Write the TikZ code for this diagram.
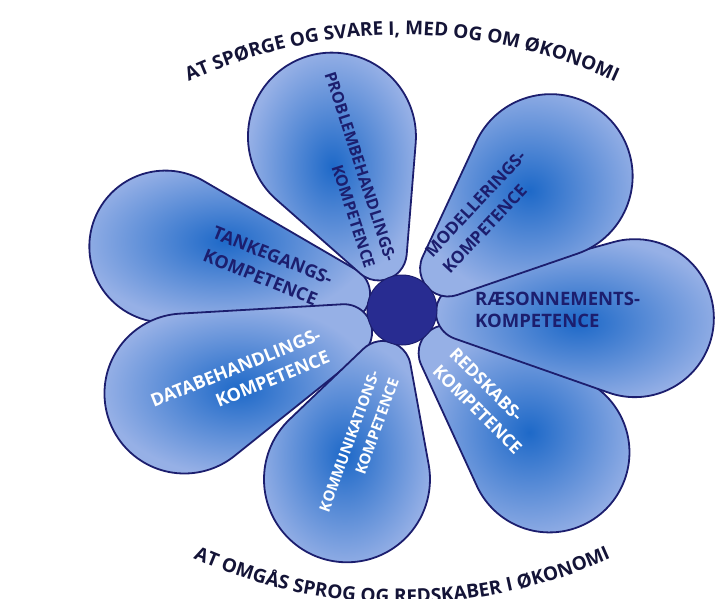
\documentclass[tikz,border=0pt]{standalone}
\usepackage{fontspec}
\setmainfont{Open Sans}
\usetikzlibrary{decorations.text}

\definecolor{navy}{RGB}{28,30,110}
\definecolor{ink}{RGB}{20,20,55}
\definecolor{petalin}{RGB}{30,105,200}
\definecolor{petalout}{RGB}{150,176,230}
\definecolor{hubfill}{RGB}{40,44,145}
\newcommand\arcfont{\bfseries\fontsize{19}{19}\selectfont}

\begin{document}
\begin{tikzpicture}[x=1pt, y=1pt,
petal/.style={draw=navy, line width=1.8pt, shading=radial, inner color=petalin, outer color=petalout},
lbl/.style 2 args={font=\bfseries\fontsize{#1}{#2}\selectfont, inner sep=0},
dark/.style 2 args={lbl={#1}{#2}, text=navy},
light/.style 2 args={lbl={#1}{#2}, text=white}]

\useasboundingbox (-402,-288) rectangle (313,310);

% petals: direction / far end / radius of the round end
\foreach \ang/\far/\rr in {165/321/76, 201/313/80, -108/261/83, -44/285/80, -2/312/79, 42/282/82, 112/271/84} {
  \pgfmathsetmacro\c{\far-\rr}
  \pgfmathsetmacro\t{90+asin((\rr-28)/(\c-62))}
  \pgfmathsetmacro\sx{62+28*cos(\t)}
  \pgfmathsetmacro\sy{28*sin(\t)}
  \pgfmathsetmacro\bx{\c+\rr*cos(\t)}
  \pgfmathsetmacro\by{\rr*sin(\t)}
  \begin{scope}[rotate=\ang]
    \draw[petal] (\sx,\sy) arc[start angle=\t, end angle={360-\t}, radius=28]
      -- (\bx,-\by) arc[start angle={-\t}, end angle=\t, radius=\rr] -- cycle;
  \end{scope}
}

\node[circle, fill=hubfill, draw=navy, line width=1pt, minimum size=70pt] (hub) at (0,0) {};

\node[dark={16}{22}, align=right, rotate=-72] (prob) at (-52,140) {PROBLEMBEHANDLINGS-\\KOMPETENCE};
\node[dark={17}{24}, align=left, rotate=47] (model) at (82,98) {MODELLERINGS-\\KOMPETENCE};
\node[dark={18.5}{22}, align=left, anchor=west] (raes) at (73,0) {RÆSONNEMENTS-\\KOMPETENCE};
\node[light={17.5}{24}, align=left, rotate=-45] (reds) at (84,-91) {REDSKABS-\\KOMPETENCE};
\node[light={15}{21}, align=right, rotate=70] (komm) at (-43,-135) {KOMMUNIKATIONS-\\KOMPETENCE};
\node[light={18}{24}, align=right, rotate=22] (data) at (-162,-69) {DATABEHANDLINGS-\\KOMPETENCE};
\node[dark={18}{25}, align=left, rotate=-22] (tank) at (-134,43) {TANKEGANGS-\\KOMPETENCE};

% curved captions
\coordinate (tc) at (0,-237);
\coordinate (bc) at (0,217);
\path[decorate, decoration={text along path, text align=center,
  text={|\arcfont\color{ink}|AT SPØRGE OG SVARE I, MED OG OM ØKONOMI}}]
  ([shift={(118:512)}]tc) arc[start angle=118, end angle=62, radius=512];
\path[decorate, decoration={text along path, text align=center,
  text={|\arcfont\color{ink}|AT OMGÅS SPROG OG REDSKABER I ØKONOMI}}]
  ([shift={(243:510)}]bc) arc[start angle=243, end angle=297, radius=510];

\end{tikzpicture}
\end{document}
